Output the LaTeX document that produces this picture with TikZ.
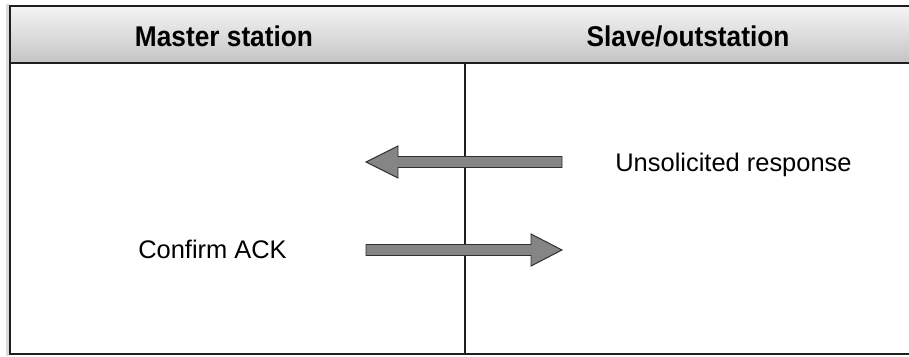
\documentclass[tikz,border=0pt]{standalone}
\usepackage{fontspec}
\setmainfont{Liberation Sans}
\newfontfamily\headfont[FakeStretch=0.92]{Liberation Sans}
\usepackage{tikz}
\usetikzlibrary{
  arrows.meta,
  shapes,
  positioning,
  calc,
  backgrounds
}
\definecolor{msFrame}{HTML}{1E1E1E}
\definecolor{msHeadTop}{HTML}{F4F4F4}
\definecolor{msHeadBot}{HTML}{C4C4C4}
\definecolor{msArrow}{HTML}{858585}
\definecolor{msArrowLine}{HTML}{2E2E2E}
\definecolor{msShadow}{HTML}{DADADA}
\tikzset{
  headtext/.style={
    font=\headfont\bfseries\fontsize{20.3}{24}\selectfont, inner sep=0pt, anchor=base
  },
  msgtext/.style={font=\fontsize{18.1}{22}\selectfont, inner sep=0pt, anchor=base},
  msgarrow/.style={draw=msArrowLine, fill=msArrow, line width=0.7pt, line join=miter},
  frameline/.style={msFrame, line width=#1},
  frameline/.default=1.4pt
}

\begin{document}
\begin{tikzpicture}[x=0.025cm, y=-0.025cm]
  \useasboundingbox (0,0) rectangle (909,356);
  % shadow and header band
  \fill[msShadow] (6,4) rectangle (9,356);
  \shade[top color=msHeadTop, bottom color=msHeadBot] (10,7) rectangle (909,63);
  \draw[frameline=1.8pt] (909,6) -- (10,6) -- (10,354) -- (909,354);
  \draw[frameline=2pt] (10,354) -- (909,354);
  \draw[frameline] (10,63) -- (909,63);
  % column divider
  \coordinate (divtop) at (465,63);
  \coordinate (divbot) at (465,354);
  \draw[frameline=1pt] (divtop) -- (divbot);
  \foreach \x/\nm/\txt in {224/master/{Master station}, 688/slave/{Slave/outstation}}{
    \node[headtext] (\nm) at (\x, 46) {\txt};
  }
  % block arrows
  \draw[msgarrow] (562,156.5) -- (398,156.5) -- (398,146) -- (366,162)
    -- (398,178) -- (398,167.5) -- (562,167.5) -- cycle;
  \draw[msgarrow] (366,244.5) -- (531,244.5) -- (531,234) -- (562,250)
    -- (531,266) -- (531,255.5) -- (366,255.5) -- cycle;
  \node[msgtext] (unsollbl) at (733.5,171.5) {Unsolicited response};
  \node[msgtext] (acklbl) at (212.5,258) {Confirm ACK};
\end{tikzpicture}
\end{document}
